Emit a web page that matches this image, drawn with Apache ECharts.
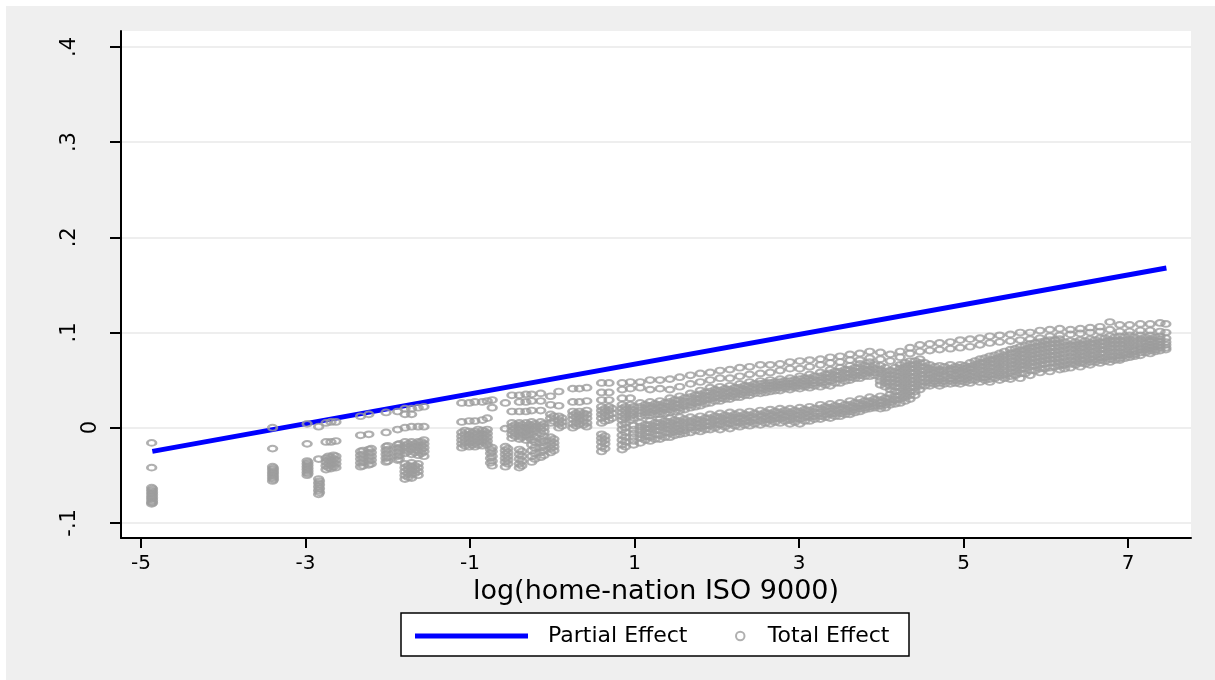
<!DOCTYPE html>
<html><head><meta charset="utf-8">
<script src="https://cdn.jsdelivr.net/npm/echarts@6/dist/echarts.min.js"></script>
<style>
html,body{margin:0;padding:0;background:#fff;}
#bg{position:absolute;left:6px;top:6px;width:1209px;height:674px;background:#efefef;}
#chart{position:absolute;left:0;top:0;width:1215px;height:680px;}
</style></head><body>
<div id="bg"></div><div id="chart"></div>
<script>
const xTitle = 'log(home-nation ISO 9000)';
const xTicks = [-5, -3, -1, 1, 3, 5, 7];
const yTicks = [-0.1, 0, 0.1, 0.2, 0.3, 0.4];
const legendNames = ['Partial Effect', 'Total Effect'];

// Partial effect: straight line, endpoints
const partialEffect = [[-4.862, -0.0249], [7.467, 0.1677]];

// Total effect: columns of points [x, [y values]]
const totalLeft = [
  [-4.87, [-0.016, -0.042, -0.063, -0.066, -0.069, -0.072, -0.075, -0.078, -0.080]],
  [-3.40, [0.000, -0.022, -0.041, -0.044, -0.047, -0.050, -0.053, -0.056]],
  [-2.98, [0.004, -0.017, -0.035, -0.038, -0.041, -0.044, -0.047, -0.050]],
  [-2.84, [0.001, -0.033, -0.054, -0.058, -0.062, -0.066, -0.070]],
  [-2.75, [0.005, -0.015, -0.032, -0.036, -0.040, -0.044]],
  [-2.69, [0.006, -0.015, -0.031, -0.035, -0.039, -0.043]],
  [-2.63, [0.006, -0.014, -0.030, -0.034, -0.038, -0.042]],
  [-2.33, [0.012, -0.008, -0.025, -0.029, -0.033, -0.037, -0.041]],
  [-2.23, [0.014, -0.007, -0.023, -0.027, -0.031, -0.035, -0.039]],
  [-2.02, [0.016, -0.005, -0.020, -0.024, -0.028, -0.032, -0.036]],
  [-1.88, [0.017, -0.002, -0.018, -0.022, -0.026, -0.030, -0.034]],
  [-1.79, [0.020, 0.014, 0.000, -0.015, -0.019, -0.023, -0.027, -0.038, -0.042, -0.046, -0.050, -0.054]],
  [-1.71, [0.020, 0.014, 0.001, -0.015, -0.019, -0.023, -0.028, -0.037, -0.041, -0.045, -0.049, -0.053]],
  [-1.63, [0.021, 0.001, -0.015, -0.019, -0.024, -0.029, -0.038, -0.042, -0.046, -0.050]],
  [-1.56, [0.022, 0.001, -0.013, -0.017, -0.021, -0.025, -0.030]],
  [-1.10, [0.026, 0.006, -0.005, -0.009, -0.013, -0.017, -0.021]],
  [-1.01, [0.026, 0.007, -0.004, -0.008, -0.012, -0.016, -0.020]],
  [-0.94, [0.027, 0.007, -0.004, -0.008, -0.012, -0.016, -0.020]],
  [-0.85, [0.027, 0.008, -0.003, -0.007, -0.011, -0.015, -0.019]],
  [-0.79, [0.028, 0.010, -0.002, -0.006, -0.010, -0.014, -0.018]],
  [-0.73, [0.029, 0.021, -0.021, -0.025, -0.030, -0.035, -0.040]],
  [-0.57, [0.026, -0.001, -0.020, -0.024, -0.028, -0.032, -0.036, -0.041]],
  [-0.49, [0.034, 0.017, 0.005, 0.001, -0.003, -0.007, -0.011]],
  [-0.40, [0.034, 0.027, 0.017, 0.005, 0.001, -0.003, -0.008, -0.012, -0.023, -0.028, -0.033, -0.038, -0.042]],
  [-0.32, [0.035, 0.027, 0.017, 0.005, 0.000, -0.004, -0.008, -0.013]],
  [-0.25, [0.035, 0.028, 0.018, 0.006, 0.002, -0.002, -0.007, -0.013, -0.018, -0.024, -0.030, -0.036]],
  [-0.14, [0.036, 0.028, 0.018, 0.006, 0.002, -0.002, -0.006, -0.012, -0.016, -0.021, -0.026, -0.031]],
  [-0.02, [0.033, 0.024, 0.014, 0.010, 0.005, -0.010, -0.014, -0.018, -0.022, -0.026]],
  [0.08, [0.038, 0.023, 0.012, 0.008, 0.004, 0.000]],
  [0.25, [0.041, 0.027, 0.017, 0.013, 0.009, 0.004, 0.000]],
  [0.33, [0.041, 0.027, 0.017, 0.013, 0.009, 0.004]],
  [0.42, [0.042, 0.028, 0.018, 0.014, 0.010, 0.005, 0.001]],
  [0.60, [0.047, 0.037, 0.029, 0.022, 0.018, 0.014, 0.010, 0.005, -0.007, -0.011, -0.015, -0.020, -0.025]],
  [0.69, [0.047, 0.037, 0.029, 0.022, 0.018, 0.013, 0.008]],
  [0.85, [0.047, 0.040, 0.031, 0.024, 0.020, 0.016, 0.012, 0.008, 0.003, -0.002, -0.008, -0.013, -0.018, -0.023]],
  [0.95, [0.048, 0.041, 0.031, 0.024, 0.020, 0.016, 0.012, 0.008]]
];
const totalLeftB = [
  [-4.86, [-0.0645, -0.0675, -0.0705, -0.0735, -0.0765, -0.079]],
  [-3.39, [-0.0425, -0.0455, -0.0485, -0.0515, -0.0545]],
  [-2.97, [-0.0365, -0.0395, -0.0425, -0.0455, -0.0485]],
  [-2.83, [-0.056, -0.060, -0.064, -0.068]],
  [-2.72, [-0.030, -0.034, -0.038, -0.042]],
  [-2.66, [-0.029, -0.033, -0.037, -0.041]],
  [-2.30, [-0.024, -0.028, -0.032, -0.036, -0.040]],
  [-2.20, [-0.022, -0.026, -0.030, -0.034, -0.038]],
  [-2.00, [-0.019, -0.023, -0.027, -0.031, -0.035]],
  [-1.86, [-0.017, -0.021, -0.025, -0.029, -0.033]],
  [-1.75, [-0.017, -0.021, -0.025, -0.040, -0.044, -0.048, -0.052]],
  [-1.67, [-0.017, -0.021, -0.026, -0.040, -0.044, -0.048]],
  [-1.59, [-0.015, -0.019, -0.023, -0.027]],
  [-1.06, [-0.003, -0.007, -0.011, -0.015, -0.019]],
  [-0.97, [-0.006, -0.010, -0.014, -0.018]],
  [-0.90, [-0.002, -0.006, -0.010, -0.014, -0.018]],
  [-0.82, [-0.004, -0.008, -0.012, -0.016]],
  [-0.75, [-0.023, -0.027, -0.032, -0.037]],
  [-0.54, [-0.022, -0.026, -0.030, -0.034, -0.038]],
  [-0.45, [0.003, -0.001, -0.005, -0.009]],
  [-0.37, [0.003, -0.001, -0.005, -0.010, -0.025, -0.030, -0.035, -0.040]],
  [-0.28, [0.003, -0.002, -0.006, -0.010]],
  [-0.21, [0.004, 0.000, -0.004, -0.010, -0.015, -0.021, -0.027, -0.033]],
  [-0.10, [0.004, 0.000, -0.004, -0.009, -0.014, -0.019, -0.024, -0.029]],
  [0.02, [0.012, 0.007, -0.012, -0.016, -0.020, -0.024]],
  [0.12, [0.010, 0.006, 0.002]],
  [0.29, [0.015, 0.011, 0.006, 0.002]],
  [0.38, [0.015, 0.011, 0.007, 0.003]],
  [0.64, [0.020, 0.016, 0.012, 0.007, -0.009, -0.013, -0.017, -0.022]],
  [0.73, [0.020, 0.015, 0.010]],
  [0.89, [0.022, 0.018, 0.014, 0.010, 0.005, 0.000, -0.005, -0.010, -0.015, -0.020]],
  [0.99, [0.022, 0.018, 0.014, 0.010, 0.002, -0.002, -0.006, -0.010, -0.014, -0.018]]
];
const totalMid = [
  [1.07, [0.048, 0.042, 0.026, 0.022, 0.018, 0.015, 0.012, 0.005, 0.001, -0.003, -0.007, -0.011, -0.016]],
  [1.19, [0.050, 0.040, 0.027, 0.023, 0.020, 0.016, 0.013, 0.007, 0.003, -0.001, -0.005, -0.010, -0.014]],
  [1.31, [0.050, 0.041, 0.028, 0.024, 0.021, 0.017, 0.014, 0.009, 0.005, 0.001, -0.003, -0.008, -0.012]],
  [1.43, [0.051, 0.040, 0.031, 0.027, 0.023, 0.019, 0.016, 0.010, 0.006, 0.002, -0.002, -0.006, -0.010]],
  [1.55, [0.053, 0.043, 0.033, 0.029, 0.025, 0.021, 0.018, 0.011, 0.007, 0.003, -0.001, -0.004, -0.007]],
  [1.68, [0.055, 0.046, 0.036, 0.032, 0.028, 0.024, 0.021, 0.011, 0.007, 0.003, 0.000, -0.005]],
  [1.80, [0.057, 0.048, 0.039, 0.035, 0.031, 0.027, 0.023, 0.012, 0.008, 0.004, 0.000, -0.004]],
  [1.92, [0.058, 0.050, 0.042, 0.038, 0.034, 0.030, 0.026, 0.014, 0.010, 0.006, 0.002, -0.002]],
  [2.04, [0.060, 0.052, 0.043, 0.039, 0.035, 0.031, 0.028, 0.015, 0.011, 0.007, 0.003, -0.002]],
  [2.16, [0.061, 0.052, 0.044, 0.040, 0.037, 0.033, 0.030, 0.016, 0.012, 0.008, 0.004, -0.001]],
  [2.28, [0.063, 0.054, 0.046, 0.042, 0.039, 0.035, 0.032, 0.016, 0.012, 0.009, 0.005, 0.001]],
  [2.40, [0.064, 0.056, 0.048, 0.044, 0.041, 0.037, 0.034, 0.017, 0.013, 0.010, 0.006, 0.002]],
  [2.53, [0.066, 0.057, 0.049, 0.046, 0.042, 0.039, 0.036, 0.018, 0.014, 0.011, 0.007, 0.003]],
  [2.65, [0.066, 0.058, 0.050, 0.047, 0.044, 0.041, 0.038, 0.019, 0.015, 0.012, 0.008, 0.004]],
  [2.77, [0.067, 0.060, 0.051, 0.048, 0.045, 0.042, 0.039, 0.020, 0.016, 0.013, 0.009, 0.005]],
  [2.89, [0.069, 0.062, 0.052, 0.049, 0.046, 0.043, 0.040, 0.020, 0.016, 0.012, 0.008, 0.004]],
  [3.01, [0.070, 0.062, 0.054, 0.051, 0.047, 0.044, 0.041, 0.021, 0.017, 0.013, 0.009, 0.004]],
  [3.13, [0.071, 0.064, 0.056, 0.052, 0.049, 0.045, 0.042, 0.022, 0.018, 0.014, 0.011, 0.007]],
  [3.26, [0.072, 0.066, 0.058, 0.054, 0.050, 0.047, 0.043, 0.024, 0.020, 0.016, 0.012, 0.009]],
  [3.38, [0.074, 0.068, 0.061, 0.057, 0.053, 0.049, 0.044, 0.025, 0.021, 0.017, 0.014, 0.010]],
  [3.50, [0.075, 0.069, 0.063, 0.059, 0.055, 0.051, 0.047, 0.026, 0.022, 0.019, 0.015, 0.012]],
  [3.62, [0.077, 0.071, 0.065, 0.061, 0.057, 0.053, 0.050, 0.028, 0.024, 0.021, 0.017, 0.014]],
  [3.74, [0.078, 0.071, 0.067, 0.063, 0.059, 0.055, 0.052, 0.030, 0.026, 0.023, 0.020, 0.017]],
  [3.86, [0.080, 0.073, 0.069, 0.065, 0.061, 0.058, 0.054, 0.032, 0.028, 0.025, 0.022, 0.020]],
  [3.99, [0.079, 0.072, 0.065, 0.061, 0.057, 0.053, 0.049, 0.045, 0.033, 0.029, 0.026, 0.023, 0.020]],
  [4.11, [0.077, 0.070, 0.060, 0.056, 0.052, 0.048, 0.044, 0.040, 0.035, 0.031, 0.027, 0.024]],
  [4.23, [0.080, 0.074, 0.066, 0.062, 0.058, 0.054, 0.050, 0.046, 0.042, 0.038, 0.034, 0.030, 0.026]],
  [4.35, [0.084, 0.078, 0.070, 0.066, 0.062, 0.058, 0.054, 0.050, 0.046, 0.042, 0.038, 0.034, 0.030]]
];
const totalMidB = [
  [1.13, [0.024, 0.020, 0.016, 0.013, 0.003, -0.001, -0.005, -0.009, -0.013]],
  [1.25, [0.025, 0.021, 0.018, 0.014, 0.005, 0.001, -0.003, -0.007, -0.012]],
  [1.37, [0.026, 0.022, 0.019, 0.015, 0.007, 0.003, -0.001, -0.005, -0.010]],
  [1.49, [0.029, 0.025, 0.021, 0.017, 0.008, 0.004, 0.000, -0.004, -0.008]],
  [1.61, [0.031, 0.027, 0.023, 0.019, 0.009, 0.005, 0.001, -0.003, -0.006]],
  [1.74, [0.034, 0.030, 0.026, 0.022, 0.009, 0.005, 0.001, -0.003]],
  [1.86, [0.037, 0.033, 0.029, 0.025, 0.010, 0.006, 0.002, -0.002]],
  [1.98, [0.040, 0.036, 0.032, 0.028, 0.012, 0.008, 0.004, 0.000]],
  [2.10, [0.041, 0.037, 0.033, 0.030, 0.013, 0.009, 0.005, 0.001]],
  [2.22, [0.042, 0.038, 0.035, 0.032, 0.014, 0.010, 0.006, 0.002]],
  [2.34, [0.044, 0.040, 0.037, 0.034, 0.014, 0.010, 0.007, 0.003]],
  [2.46, [0.046, 0.042, 0.039, 0.036, 0.015, 0.011, 0.008, 0.004]],
  [2.59, [0.047, 0.044, 0.040, 0.037, 0.016, 0.012, 0.009, 0.005]],
  [2.71, [0.048, 0.045, 0.042, 0.039, 0.017, 0.013, 0.010, 0.006]],
  [2.83, [0.049, 0.046, 0.043, 0.041, 0.018, 0.014, 0.011, 0.007]],
  [2.95, [0.050, 0.047, 0.044, 0.042, 0.018, 0.014, 0.010, 0.006]],
  [3.07, [0.052, 0.049, 0.045, 0.043, 0.019, 0.015, 0.011, 0.007]],
  [3.19, [0.054, 0.050, 0.047, 0.044, 0.020, 0.016, 0.012, 0.009]],
  [3.32, [0.056, 0.052, 0.048, 0.045, 0.022, 0.018, 0.014, 0.011]],
  [3.44, [0.059, 0.055, 0.051, 0.047, 0.023, 0.019, 0.015, 0.012]],
  [3.56, [0.061, 0.057, 0.053, 0.049, 0.024, 0.020, 0.017, 0.014]],
  [3.68, [0.063, 0.059, 0.055, 0.052, 0.026, 0.022, 0.019, 0.016]],
  [3.80, [0.065, 0.061, 0.057, 0.054, 0.028, 0.024, 0.021, 0.019]],
  [3.92, [0.066, 0.062, 0.058, 0.055, 0.030, 0.026, 0.023, 0.021]],
  [4.05, [0.063, 0.059, 0.055, 0.051, 0.047, 0.043, 0.031, 0.027, 0.024, 0.021]],
  [4.17, [0.063, 0.059, 0.055, 0.051, 0.047, 0.043, 0.038, 0.033, 0.029, 0.025]],
  [4.29, [0.068, 0.064, 0.060, 0.056, 0.052, 0.048, 0.044, 0.040, 0.036, 0.032, 0.028]],
  [4.41, [0.070, 0.066, 0.062, 0.058, 0.054, 0.050, 0.046, 0.042, 0.038, 0.034]]
];
const totalRight = [
  [4.47, [0.087, 0.080, 0.072, 0.068, 0.064, 0.060, 0.056, 0.052, 0.048, 0.044, 0.040]],
  [4.59, [0.088, 0.081, 0.066, 0.062, 0.058, 0.055, 0.051, 0.047, 0.044]],
  [4.71, [0.089, 0.082, 0.065, 0.061, 0.058, 0.054, 0.051, 0.047, 0.044]],
  [4.84, [0.090, 0.083, 0.066, 0.062, 0.059, 0.056, 0.052, 0.049, 0.046]],
  [4.96, [0.092, 0.084, 0.066, 0.063, 0.059, 0.056, 0.052, 0.049, 0.046]],
  [5.08, [0.093, 0.085, 0.068, 0.064, 0.061, 0.057, 0.054, 0.050, 0.047]],
  [5.20, [0.094, 0.087, 0.072, 0.068, 0.064, 0.060, 0.056, 0.052, 0.048]],
  [5.32, [0.096, 0.089, 0.075, 0.071, 0.067, 0.063, 0.059, 0.055, 0.051, 0.048]],
  [5.44, [0.097, 0.090, 0.078, 0.074, 0.070, 0.066, 0.062, 0.058, 0.054, 0.050]],
  [5.57, [0.098, 0.091, 0.082, 0.078, 0.074, 0.070, 0.066, 0.062, 0.058, 0.054, 0.051]],
  [5.69, [0.100, 0.092, 0.085, 0.081, 0.077, 0.073, 0.069, 0.065, 0.061, 0.057, 0.052]],
  [5.81, [0.100, 0.093, 0.088, 0.084, 0.080, 0.076, 0.072, 0.068, 0.064, 0.060, 0.055]],
  [5.93, [0.102, 0.094, 0.090, 0.086, 0.082, 0.078, 0.074, 0.070, 0.066, 0.062, 0.058]],
  [6.05, [0.103, 0.096, 0.092, 0.088, 0.084, 0.080, 0.076, 0.072, 0.068, 0.063, 0.059]],
  [6.17, [0.104, 0.097, 0.093, 0.089, 0.085, 0.081, 0.077, 0.073, 0.069, 0.065, 0.061]],
  [6.30, [0.103, 0.098, 0.091, 0.087, 0.083, 0.079, 0.075, 0.071, 0.067, 0.063]],
  [6.42, [0.104, 0.099, 0.092, 0.088, 0.084, 0.080, 0.076, 0.072, 0.068, 0.064]],
  [6.54, [0.105, 0.100, 0.093, 0.089, 0.085, 0.081, 0.077, 0.073, 0.069, 0.066]],
  [6.66, [0.106, 0.101, 0.094, 0.090, 0.086, 0.082, 0.078, 0.074, 0.071, 0.068]],
  [6.78, [0.111, 0.103, 0.096, 0.092, 0.088, 0.084, 0.080, 0.076, 0.072, 0.069]],
  [6.90, [0.108, 0.101, 0.096, 0.092, 0.088, 0.084, 0.080, 0.076, 0.073, 0.071]],
  [7.02, [0.108, 0.101, 0.097, 0.093, 0.089, 0.085, 0.081, 0.077, 0.074]],
  [7.15, [0.109, 0.102, 0.097, 0.093, 0.089, 0.085, 0.082, 0.079, 0.076]],
  [7.27, [0.109, 0.102, 0.097, 0.093, 0.090, 0.087, 0.084, 0.081, 0.078]],
  [7.39, [0.110, 0.101, 0.096, 0.093, 0.090, 0.087, 0.084, 0.081]],
  [7.46, [0.109, 0.100, 0.094, 0.090, 0.087, 0.084, 0.082]]
];
const totalRightB = [
  [4.53, [0.068, 0.064, 0.060, 0.056, 0.052, 0.048, 0.044]],
  [4.65, [0.064, 0.060, 0.057, 0.053, 0.049, 0.046]],
  [4.77, [0.064, 0.060, 0.056, 0.053, 0.049, 0.046]],
  [4.90, [0.064, 0.061, 0.057, 0.054, 0.050, 0.047]],
  [5.02, [0.065, 0.062, 0.058, 0.055, 0.051, 0.048]],
  [5.14, [0.070, 0.066, 0.062, 0.058, 0.054, 0.050]],
  [5.26, [0.073, 0.069, 0.065, 0.061, 0.057, 0.053, 0.050]],
  [5.38, [0.076, 0.072, 0.068, 0.064, 0.060, 0.056, 0.052]],
  [5.50, [0.080, 0.076, 0.072, 0.068, 0.064, 0.060, 0.056, 0.052]],
  [5.63, [0.083, 0.079, 0.075, 0.071, 0.067, 0.063, 0.059, 0.055]],
  [5.75, [0.086, 0.082, 0.078, 0.074, 0.070, 0.066, 0.062, 0.057]],
  [5.87, [0.089, 0.085, 0.081, 0.077, 0.073, 0.069, 0.065, 0.060]],
  [5.99, [0.091, 0.087, 0.083, 0.079, 0.075, 0.071, 0.067, 0.062]],
  [6.11, [0.092, 0.088, 0.084, 0.080, 0.076, 0.072, 0.068, 0.064]],
  [6.23, [0.090, 0.086, 0.082, 0.078, 0.074, 0.070, 0.066, 0.062]],
  [6.36, [0.090, 0.086, 0.082, 0.078, 0.074, 0.070, 0.066]],
  [6.48, [0.091, 0.087, 0.083, 0.079, 0.075, 0.071, 0.067]],
  [6.60, [0.092, 0.088, 0.084, 0.080, 0.076, 0.072, 0.069]],
  [6.72, [0.094, 0.090, 0.086, 0.082, 0.078, 0.074, 0.070]],
  [6.84, [0.095, 0.091, 0.087, 0.083, 0.079, 0.075, 0.071]],
  [6.96, [0.095, 0.091, 0.087, 0.083, 0.079, 0.076, 0.073]],
  [7.08, [0.095, 0.091, 0.087, 0.083, 0.080, 0.077, 0.075]],
  [7.21, [0.095, 0.091, 0.088, 0.085, 0.082, 0.079]],
  [7.33, [0.095, 0.091, 0.088, 0.085, 0.082, 0.080]]
];

const totalPoints = [];
[totalLeft, totalLeftB, totalMid, totalMidB, totalRight, totalRightB].forEach(group =>
  group.forEach(([x, ys]) => ys.forEach(y => totalPoints.push([x, y]))));

const FONT = 'DejaVu Sans';
const Y_MIN = -0.1159, Y_MAX = 0.4167;
const GRAY = '#9c9c9c';
const fmtY = v => {
  if (Math.abs(v) < 1e-9) return '0';
  return (v < 0 ? '-' : '') + Math.abs(v).toFixed(1).replace(/^0/, '');
};

const chart = echarts.init(document.getElementById('chart'));
chart.setOption({
  animation: false,
  backgroundColor: 'transparent',
  textStyle: { fontFamily: FONT, color: '#000' },
  grid: { left: 121, top: 31, width: 1070, height: 507, show: true,
          backgroundColor: '#ffffff', borderWidth: 0 },
  xAxis: {
    type: 'value', min: -5.243, max: 7.766, position: 'bottom',
    axisLine: { show: true, onZero: false, lineStyle: { color: '#000', width: 2 } },
    axisTick: { show: true, length: 10, customValues: xTicks, lineStyle: { color: '#000', width: 2 } },
    axisLabel: { customValues: xTicks, margin: 16, fontSize: 20, color: '#000', fontFamily: FONT,
                 formatter: v => String(v) },
    splitLine: { show: false },
    name: xTitle, nameLocation: 'middle', nameGap: 35,
    nameTextStyle: { fontSize: 27, color: '#000', fontFamily: FONT }
  },
  yAxis: [{
    type: 'value', min: Y_MIN, max: Y_MAX, position: 'left',
    axisLine: { show: true, onZero: false, lineStyle: { color: '#000', width: 2 } },
    axisTick: { show: true, length: 11, customValues: yTicks, lineStyle: { color: '#000', width: 2 } },
    axisLabel: { customValues: yTicks.filter(v => v !== 0), rotate: 90, margin: 41, fontSize: 21,
                 color: '#000', fontFamily: FONT, formatter: fmtY },
    splitLine: { show: true, lineStyle: { color: '#e8e8e8', width: 1.5 } }
  }, {
    type: 'value', min: Y_MIN, max: Y_MAX, position: 'left',
    axisLine: { show: false, onZero: false }, axisTick: { show: false }, splitLine: { show: false },
    axisLabel: { customValues: [0], rotate: 90, margin: 20, fontSize: 21,
                 color: '#000', fontFamily: FONT, formatter: fmtY }
  }],
  graphic: { elements: [{
    type: 'rect', z: 1, silent: true,
    shape: { x: 401, y: 613, width: 508, height: 43 },
    style: { fill: '#ffffff', stroke: '#000', lineWidth: 1.5 }
  }] },
  legend: [{
    data: [{ name: legendNames[0], icon: 'rect' }], left: 415, top: 625, padding: 0,
    itemWidth: 113, itemHeight: 5, selectedMode: false,
    itemStyle: { color: '#0000ff' },
    textStyle: { fontSize: 22, color: '#000', fontFamily: FONT, padding: [0, 0, 0, 15] }
  }, {
    data: [{ name: legendNames[1], icon: 'circle' }], left: 735, top: 625, padding: 0,
    itemWidth: 11, itemHeight: 8.5, selectedMode: false,
    itemStyle: { color: 'rgba(0,0,0,0)', borderColor: GRAY, borderWidth: 2 },
    textStyle: { fontSize: 22, color: '#000', fontFamily: FONT, padding: [0, 0, 0, 17] }
  }],
  series: [{
    name: legendNames[0], type: 'line', data: partialEffect, symbol: 'none', showSymbol: false,
    z: 2, silent: true, color: '#0000ff',
    lineStyle: { color: '#0000ff', width: 5 }, itemStyle: { color: '#0000ff' }
  }, {
    name: legendNames[1], type: 'scatter', data: totalPoints, symbol: 'circle',
    symbolSize: [8.6, 5.8], z: 3, silent: true,
    itemStyle: { color: 'rgba(0,0,0,0)', borderColor: GRAY, borderWidth: 2.3 }
  }]
});
</script></body></html>
